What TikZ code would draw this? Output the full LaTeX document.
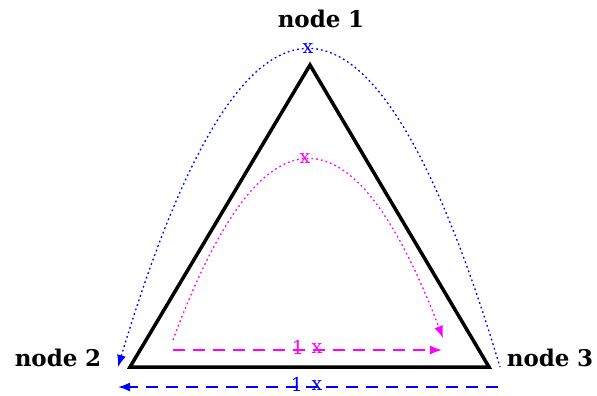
\documentclass[tikz,border=0pt]{standalone}
\usepackage{fontspec}
\setmainfont{DejaVu Serif}
\usetikzlibrary{arrows.meta}
\definecolor{mag}{RGB}{255,0,255}
\definecolor{blu}{RGB}{0,0,255}
\begin{document}
\begin{tikzpicture}[x=1pt,y=-1pt,
  lbl/.style={font=\fontsize{23}{26}\selectfont\bfseries, inner sep=0pt},
  small/.style={font=\fontsize{19}{20}\selectfont, inner sep=0pt},
  tri/.style={line width=3.5pt, line join=miter},
  dotcurve/.style={line width=1.3pt, dash pattern=on 1.8pt off 3pt},
  dashline/.style={line width=1.6pt, dash pattern=on 12pt off 8pt},
  tip/.style={-{Latex[length=12pt,width=9pt]}},
  rtip/.style={{Latex[length=12pt,width=9pt]}-}]
\useasboundingbox (0,0) rectangle (597,396);
% vertices
\coordinate (a) at (310,65);
\coordinate (b) at (130,367);
\coordinate (c) at (489,367);
\draw[tri] (a) -- (b) -- (c) -- cycle;
% labels
\node[lbl] (n1) at (321,19) {node\,\,1};
\node[lbl] (n2) at (58,358) {node\,\,2};
\node[lbl] (n3) at (550,358) {node\,\,3};
% blue curve
\coordinate (bl) at (118,367);
\coordinate (br) at (500,367);
\draw[blu, dotcurve, rtip] (bl) .. controls (245,-56) and (373,-56) .. (br);
\node[small, text=blu] (bx) at (308,49) {x};
% magenta curve
\coordinate (ml) at (173,340);
\coordinate (mr) at (443,338);
\draw[mag, dotcurve, tip] (ml) .. controls (262,100) and (352,100) .. (mr);
\node[small, text=mag] (mx) at (305,159) {x};
% magenta dashed
\coordinate (dl) at (173,350);
\coordinate (dr) at (442,350);
\draw[mag, dashline, tip] (dl) -- (dr);
\node[small, text=mag] (m1) at (298,347) {1};
\node[small, text=mag] (m2) at (317,349) {x};
% blue dashed
\coordinate (el) at (118,387);
\coordinate (er) at (498,387);
\draw[blu, dashline, tip] (er) -- (el);
\node[small, text=blu] (b1) at (297,384) {1};
\node[small, text=blu] (b2) at (317,386) {x};
\end{tikzpicture}
\end{document}
